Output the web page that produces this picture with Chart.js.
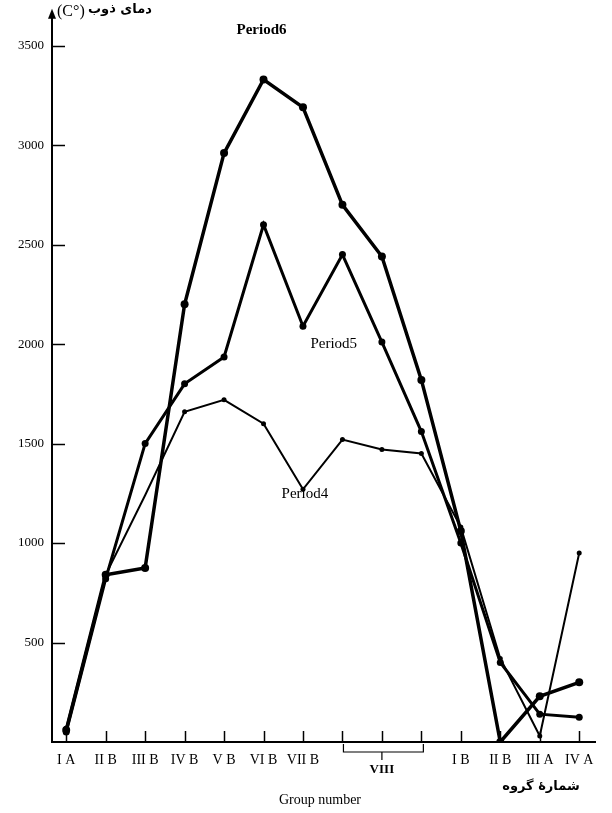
<!DOCTYPE html>
<html>
<head>
<meta charset="utf-8">
<script src="https://cdn.jsdelivr.net/npm/chart.js@4.4.1/dist/chart.umd.min.js"></script>
<style>
  html, body { margin: 0; padding: 0; background: #fff; }
  #wrap { width: 612px; height: 813px; }
</style>
</head>
<body>
<div id="wrap"><canvas id="grafico" width="612" height="813"></canvas></div>
<script>
// gruppi sull'asse x (le tre colonne VIII restano senza etichetta, c'e' la graffa)
var gruppi = ['I A', 'II B', 'III B', 'IV B', 'V B', 'VI B', 'VII B', '', '', '', 'I B', 'II B', 'III A', 'IV A'];
// punti di fusione
var periodo4 = [70, 840, 1240, 1660, 1720, 1600, 1270, 1520, 1470, 1450, 1080, 420, 30, 950];
var periodo5 = [50, 820, 1500, 1800, 1935, 2600, 2090, 2450, 2010, 1560, 1000, 400, 140, 125];
var periodo6 = [60, 840, 875, 2200, 2960, 3330, 3190, 2700, 2440, 1820, 1060, 0, 230, 300];
var tickY = [500, 1000, 1500, 2000, 2500, 3000, 3500];

function punti(valori){
  var out = [];
  for (var i = 0; i < valori.length; i++){
    out.push({x: i, y: valori[i]});
  }
  return out;
}

var serif = '"Liberation Serif", "DejaVu Serif", serif';

var decorazioni = {
  id: 'decorazioni',
  afterDraw: function(chart){
    var ctx = chart.ctx;
    var sx = chart.scales.x;
    var sy = chart.scales.y;
    var area = chart.chartArea;
    ctx.save();
    ctx.strokeStyle = '#000';
    ctx.fillStyle = '#000';
    ctx.lineWidth = 1.5;

    // tacche interne asse y
    for (var i = 0; i < tickY.length; i++){
      var py = Math.round(sy.getPixelForValue(tickY[i])) + 0.5;
      ctx.beginPath();
      ctx.moveTo(area.left, py);
      ctx.lineTo(area.left + 13, py);
      ctx.stroke();
    }
    // tacche interne asse x
    for (var j = 0; j < gruppi.length; j++){
      var px = Math.round(sx.getPixelForValue(j)) + 0.5;
      ctx.beginPath();
      ctx.moveTo(px, area.bottom);
      ctx.lineTo(px, area.bottom - 11);
      ctx.stroke();
    }

    // freccia in cima all'asse y
    ctx.beginPath();
    ctx.moveTo(area.left, area.top - 7);
    ctx.lineTo(area.left - 4, area.top + 3);
    ctx.lineTo(area.left + 4, area.top + 3);
    ctx.closePath();
    ctx.fill();

    // graffa del gruppo VIII
    var x1 = sx.getPixelForValue(7) + 1;
    var x2 = sx.getPixelForValue(9) + 2;
    var xm = sx.getPixelForValue(8);
    var yb = area.bottom + 10;
    ctx.lineWidth = 1.2;
    ctx.beginPath();
    ctx.moveTo(x1, area.bottom + 2);
    ctx.lineTo(x1, yb);
    ctx.lineTo(x2, yb);
    ctx.lineTo(x2, area.bottom + 2);
    ctx.moveTo(xm, yb);
    ctx.lineTo(xm, yb + 8);
    ctx.stroke();

    ctx.textAlign = 'center';
    ctx.textBaseline = 'middle';
    ctx.font = 'bold 13px ' + serif;
    ctx.fillText('VIII', xm, yb + 18);

    ctx.font = '14px ' + serif;
    ctx.fillText('Group number', 320, 800);

    ctx.font = 'bold 13px "DejaVu Sans"';
    ctx.fillText('شمارهٔ گروه', 541, 787);

    // titolo asse y
    ctx.textAlign = 'left';
    ctx.font = '16px ' + serif;
    ctx.fillText('(C°)', area.left + 5, 12);
    ctx.font = 'bold 13px "DejaVu Sans"';
    ctx.fillText('دمای ذوب', area.left + 36, 10);

    // nomi dei periodi
    ctx.textAlign = 'center';
    ctx.font = 'bold 15px ' + serif;
    ctx.fillText('Period6', sx.getPixelForValue(4.95), sy.getPixelForValue(3580));
    ctx.font = '15px ' + serif;
    ctx.fillText('Period5', sx.getPixelForValue(6.78), sy.getPixelForValue(2000));
    ctx.fillText('Period4', sx.getPixelForValue(6.05), sy.getPixelForValue(1245));
    ctx.restore();
  }
};

var grafico = new Chart(document.getElementById('grafico'), {
  type: 'line',
  data: {
    datasets: [
      {
        label: 'Period6',
        data: punti(periodo6),
        borderColor: '#000',
        backgroundColor: '#000',
        borderWidth: 3.5,
        pointRadius: 4,
        pointBorderWidth: 0,
        tension: 0
      },
      {
        label: 'Period5',
        data: punti(periodo5),
        borderColor: '#000',
        backgroundColor: '#000',
        borderWidth: 3,
        pointRadius: 3.5,
        pointBorderWidth: 0,
        tension: 0
      },
      {
        label: 'Period4',
        data: punti(periodo4),
        borderColor: '#000',
        backgroundColor: '#000',
        borderWidth: 2,
        // nel grafico originale III B del periodo 4 non ha il pallino
        pointRadius: function(c){ return c.dataIndex == 2 ? 0 : 2.5; },
        pointBorderWidth: 0,
        tension: 0
      }
    ]
  },
  options: {
    responsive: false,
    animation: false,
    events: [],
    layout: { padding: { top: 10, right: 17, bottom: 0, left: 0 } },
    plugins: {
      legend: { display: false },
      tooltip: { enabled: false }
    },
    scales: {
      x: {
        type: 'linear',
        min: -0.36,
        max: 13.4,
        afterBuildTicks: function(scale){
          scale.ticks = gruppi.map(function(g, i){ return {value: i}; });
        },
        afterFit: function(scale){ scale.height = 71; },
        border: { display: true, color: '#000', width: 2 },
        grid: { display: false, drawTicks: false },
        ticks: {
          color: '#000',
          padding: 10,
          maxRotation: 0,
          autoSkip: false,
          font: { family: serif, size: 14 },
          callback: function(v){ return gruppi[v]; }
        }
      },
      y: {
        min: 0,
        max: 3650,
        afterBuildTicks: function(scale){
          scale.ticks = tickY.map(function(v){ return {value: v}; });
        },
        afterFit: function(scale){ scale.width = 52; },
        border: { display: true, color: '#000', width: 2 },
        grid: { display: false, drawTicks: false },
        ticks: {
          color: '#000',
          padding: 8,
          font: { family: serif, size: 13 },
          callback: function(v){ return String(v); }
        }
      }
    }
  },
  plugins: [decorazioni]
});
</script>
</body>
</html>
